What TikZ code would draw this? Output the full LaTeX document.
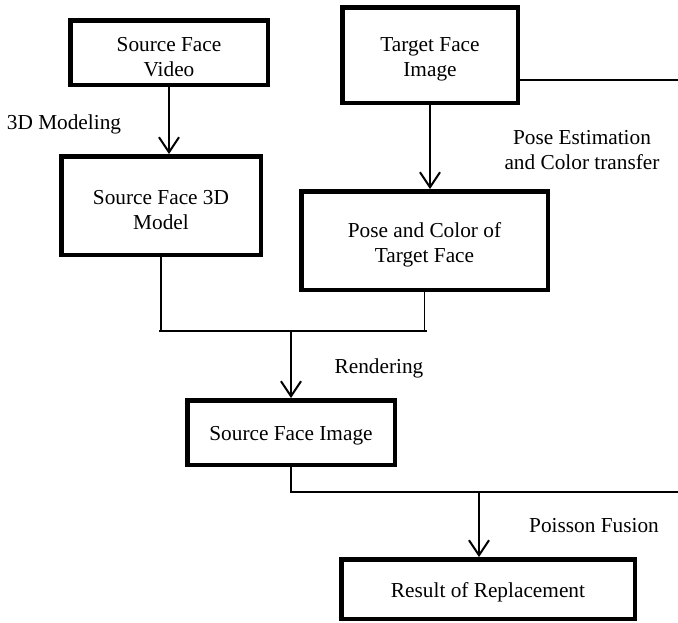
\documentclass[tikz,border=0pt]{standalone}
\usepackage{fontspec}
\setmainfont{Liberation Serif}
\usetikzlibrary{arrows.meta}
% invisible strut that lowers box texts to sit a little below centre
\newcommand{\lowstrut}[1]{\rule{0pt}{#1}}
\begin{document}
\begin{tikzpicture}[x=1pt,y=-1pt,
  every node/.style={font=\fontsize{21.3}{25}\selectfont, align=center, inner sep=0pt},
  stagebox/.style={draw, line width=4.5pt, rectangle},
  link/.style={line width=1.5pt},
  flow/.style={line width=2pt, -{Straight Barb[length=15pt,width=20pt,line width=2pt]}},
  caption/.style={}]
\useasboundingbox (0,0) rectangle (678,622);

% process boxes
\node[stagebox, minimum width=197.5pt, minimum height=64.5pt] (video) at (169,52.5) {\lowstrut{23pt}Source Face\\Video};
\node[stagebox, minimum width=199.5pt, minimum height=98.5pt] (model) at (161,205.5) {\lowstrut{23pt}Source Face 3D\\Model};
\node[stagebox, minimum width=175.5pt, minimum height=95.5pt] (target) at (430,55) {\lowstrut{23pt}Target Face\\Image};
\node[stagebox, minimum width=246.5pt, minimum height=98.5pt] (pose) at (424.5,240.5) {\lowstrut{24pt}Pose and Color of\\Target Face};
\node[stagebox, minimum width=207.5pt, minimum height=64.5pt] (render) at (291,432.5) {\lowstrut{21pt}Source Face Image};
\node[stagebox, minimum width=293.5pt, minimum height=59.5pt] (result) at (488,589) {\lowstrut{21pt}Result of Replacement};

% step labels
\node[caption] (lmodel) at (64,124.5) {3D Modeling};
\node[caption] (lpose) at (582,150) {Pose Estimation\\and Color transfer};
\node[caption] (lrender) at (379,368.5) {Rendering};
\node[caption] (lfusion) at (594,526) {Poisson Fusion};

% junction points
\coordinate (jl) at (159,331);
\coordinate (jr) at (427,331);
\coordinate (tr) at (678,80);
\coordinate (br) at (678,492);
\coordinate (fuse) at (479,492);

% connectors
\draw[flow] (video.south) -- (video.south |- model.north);
\draw[flow] (target.south) -- (target.south |- pose.north);
\draw[link] (model.south) -- (model.south |- jl);
\draw[link] (pose.south) -- (pose.south |- jr);
\draw[link] (jl) -- (jr);
\draw[flow] (render.north |- jl) -- (render.north);
\draw[link] (target.east |- tr) -- (tr);
\draw[link] (render.south) |- (br);
\draw[flow] (fuse) -- (fuse |- result.north);
\end{tikzpicture}
\end{document}
